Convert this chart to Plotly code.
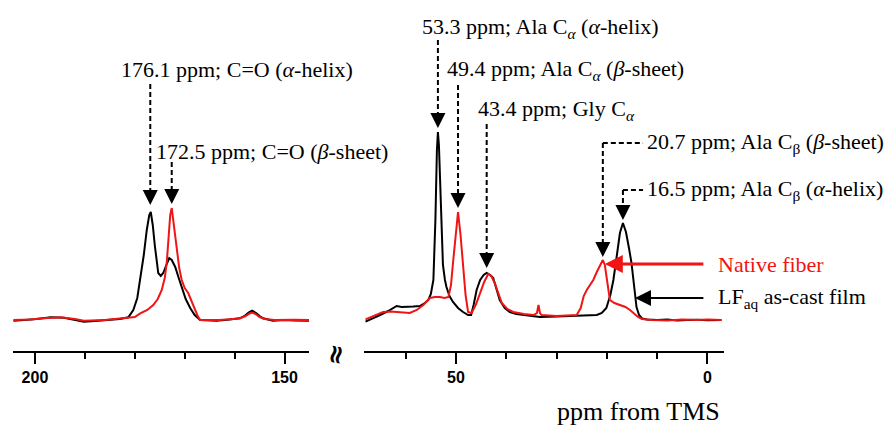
import plotly.graph_objects as go

# ---------------- data (ppm, intensity above baseline) ----------------
left_ppm_black = [204.3, 202, 200.2, 198, 196.9, 194.2, 192, 190.2, 188, 185.6, 183, 181.3, 180.3, 179.5,
                  178.9, 178.2, 177.6, 177.1, 176.8, 176.4, 176.0, 175.6, 175.3, 174.8, 174.3, 173.6, 173.1,
                  172.6, 171.9, 171.2, 170.6, 169.8, 168.9, 168.0, 166.9, 165, 163.6, 161, 159.0, 158, 157.2,
                  156.5, 155.7, 155.0, 154.3, 152.3, 150, 148, 145.0]
left_int_black = [-0.7, 0, 0.7, 2, 2.7, 2.3, 0.5, -1.7, -1, 0, 1, 2.7, 10, 22,
                  40, 65, 90, 105, 108, 95, 75, 55, 47, 44, 47, 56, 62,
                  60, 53, 42, 33, 21, 12, 5, 0, -0.5, -0.7, 0.5, 1.7, 4, 7.5,
                  9.3, 7, 4, 1.7, -0.7, 0, -0.5, -0.7]

left_ppm_red = [204.3, 201, 198.2, 194.9, 192, 190.2, 186, 181.6, 180, 178.9, 177.5, 176.3, 175.4, 174.6,
                174.0, 173.6, 173.2, 172.9, 172.6, 172.3, 172.0, 171.6, 171.1, 170.6, 170.0, 169.3, 168.6,
                168.0, 167.4, 166.9, 163, 159, 157.8, 157, 156.5, 155.8, 155, 154, 152, 148, 145]
left_int_red = [0, 0.5, 1.7, 2.7, 1, -0.7, 0, 1.7, 3, 6.7, 10, 15, 21, 30,
                42, 57, 85, 105, 112, 100, 82, 67, 52, 40, 32, 27, 18,
                10, 4, 0, 0, 1.5, 4, 6.5, 7.5, 6, 3, 1, 0, 0.3, 0]

right_ppm_black = [68.0, 66.5, 65.1, 63.5, 62.5, 61.8, 60.8, 59.8, 58.5, 57.2, 56.2, 55.5, 55.0, 54.5, 54.1,
                   53.8, 53.6, 53.4, 53.0, 52.6, 52.2, 51.9, 51.3, 50.6, 49.6, 48.6, 47.6, 47.0, 46.5, 45.9,
                   45.2, 44.5, 43.9, 43.2, 42.6, 42.0, 41.3, 40.3, 39.3, 38, 36.0, 33.3, 30, 26.7, 24, 22.0,
                   21, 20.1, 19.3, 18.7, 18.0, 17.4, 16.8, 16.2, 15.6, 15.1, 14.6, 14.1, 13.6, 13, 12, 10, 8,
                   6, 4, 2, 0, -2.8]
right_int_black = [-1.7, 1.5, 5, 9, 12, 14, 13, 13, 13.5, 14, 17, 20, 26, 40, 100,
                   170, 188, 175, 110, 55, 40, 33, 24, 18, 12, 8, 5, 5, 15, 30,
                   40, 45, 47, 45, 42, 32, 20, 12, 8, 6, 5, 3, 3.5, 4, 4.5, 5,
                   7, 12, 25, 40, 65, 87, 97, 88, 72, 57, 35, 13, 5, 1.5, 0.5, 0, 0.5,
                   -0.5, 0, 0.3, -0.3, 0]

right_ppm_red = [68.0, 66.5, 64.5, 63, 61.8, 60.5, 59.2, 57.8, 56.5, 55.2, 54.2, 53.2, 52.3, 51.5, 51.0,
                 50.6, 50.1, 49.6, 49.1, 48.6, 48.1, 47.6, 46.9, 46.0, 45.2, 44.4, 43.6, 43.0, 42.3, 41.6,
                 40.9, 39.8, 38.6, 36.5, 34.6, 33.9, 33.6, 33.3, 33.0, 30.0, 28, 26.0, 25.2, 24.6, 24.0,
                 23.3, 22.7, 22.0, 21.3, 20.8, 20.4, 20.1, 19.7, 19.4, 18.5, 17.4, 16.3, 15.4, 14.6, 13.8,
                 13, 11, 8, 5, 2, 0, -2.8]
right_int_red = [0.7, 4, 8, 8.5, 8, 7.5, 7, 10, 15, 22, 23, 23, 22, 23, 35,
                 57, 85, 108, 85, 57, 25, 8, 7, 16, 27, 38, 46, 44, 37, 27,
                 17, 11, 8, 6, 5, 7, 15, 7, 5, 4, 4.5, 5, 12, 24, 30,
                 35, 40, 48, 55, 60, 55, 43, 30, 20, 17, 15, 13, 10, 6, 3,
                 1, 0, -0.5, 0.5, 0, 0.5, 0]

# peak labels: text, axis, dashed-line ppm, line top, arrow tip, label x, label y
peak_labels = ["176.1 ppm; C=O (<i>α</i>-helix)",
               "172.5 ppm; C=O (<i>β</i>-sheet)",
               "53.3 ppm; Ala C<sub><i>α</i></sub> (<i>α</i>-helix)",
               "49.4 ppm; Ala C<sub><i>α</i></sub> (<i>β</i>-sheet)",
               "43.4 ppm; Gly C<sub><i>α</i></sub>"]
peak_axis = ["x", "x", "x2", "x2", "x2"]
peak_ppm = [176.9, 172.6, 53.6, 49.6, 43.9]
peak_top = [236, 158, 280, 235, 196]
peak_tip = [115, 116, 192, 112, 52]
peak_label_x = [159.6, 152.6, 33.1, 28.3, 30.1]
peak_label_y = [251, 169, 292, 250, 210]

# elbow labels (C-beta)
elbow_labels = ["20.7 ppm; Ala C<sub>β</sub> (<i>β</i>-sheet)",
                "16.5 ppm; Ala C<sub>β</sub> (<i>α</i>-helix)"]
elbow_ppm = [20.8, 16.8]
elbow_top = [177, 130]
elbow_tip = [63, 100]
elbow_end = 12.8
elbow_label_x = 12.4

# legend-like labels
legend_labels = ["Native fiber", "LF<sub>aq</sub> as-cast film"]
legend_colors = ["#f01414", "#000000"]
legend_y = [56, 22]
legend_tip = [20.4, 14.4]
legend_tail = [0.5, 0.5]
legend_text_x = -1.7

left_range = [204.5, 145.1]
right_range = [68.3, -3.3]

# ---------------- figure ----------------
fig = go.Figure()
fig.add_trace(go.Scatter(x=left_ppm_black, y=left_int_black, mode="lines",
                         line=dict(color="black", width=2), xaxis="x", yaxis="y"))
fig.add_trace(go.Scatter(x=left_ppm_red, y=left_int_red, mode="lines",
                         line=dict(color=legend_colors[0], width=2), xaxis="x", yaxis="y"))
fig.add_trace(go.Scatter(x=right_ppm_black, y=right_int_black, mode="lines",
                         line=dict(color="black", width=2), xaxis="x2", yaxis="y"))
fig.add_trace(go.Scatter(x=right_ppm_red, y=right_int_red, mode="lines",
                         line=dict(color=legend_colors[0], width=2), xaxis="x2", yaxis="y"))

W, H = 887, 427
axis_style = dict(showline=True, linecolor="black", linewidth=2, ticks="outside", ticklen=11,
                  tickwidth=2, tickcolor="black", showgrid=False, zeroline=False,
                  tick0=0, dtick=50, anchor="free", position=1 - 352 / H,
                  tickfont=dict(family="Liberation Sans, Arial", size=16,
                                color="black", weight="bold"),
                  minor=dict(dtick=10, tick0=0, ticks="outside", ticklen=6, tickwidth=2,
                             tickcolor="black", showgrid=False))

text_font = dict(family="Liberation Serif, Times New Roman, serif", size=22, color="black")
annotations = []
shapes = []
HEAD = 11
for t, ax_, p, top, tip, lx, ly in zip(peak_labels, peak_axis, peak_ppm, peak_top, peak_tip,
                                        peak_label_x, peak_label_y):
    annotations.append(dict(text=t, x=lx, y=ly, xref=ax_, yref="y", showarrow=False,
                            xanchor="center", yanchor="middle", font=text_font))
    shapes.append(dict(type="line", xref=ax_, yref="y", x0=p, x1=p, y0=top, y1=tip + HEAD,
                       line=dict(color="black", width=2, dash="5px,3px")))
    annotations.append(dict(text="", x=p, y=tip, xref=ax_, yref="y", showarrow=True,
                            ax=0, ay=-HEAD - 2, arrowhead=2, arrowsize=1.5, arrowwidth=2,
                            arrowcolor="black"))

for t, p, top, tip in zip(elbow_labels, elbow_ppm, elbow_top, elbow_tip):
    annotations.append(dict(text=t, x=elbow_label_x, y=top, xref="x2", yref="y", showarrow=False,
                            xanchor="left", yanchor="middle", font=text_font))
    shapes.append(dict(type="line", xref="x2", yref="y", x0=p, x1=elbow_end, y0=top, y1=top,
                       line=dict(color="black", width=2, dash="5px,3px")))
    shapes.append(dict(type="line", xref="x2", yref="y", x0=p, x1=p, y0=top, y1=tip + HEAD,
                       line=dict(color="black", width=2, dash="5px,3px")))
    annotations.append(dict(text="", x=p, y=tip, xref="x2", yref="y", showarrow=True,
                            ax=0, ay=-HEAD - 2, arrowhead=2, arrowsize=1.5, arrowwidth=2,
                            arrowcolor="black"))

for t, c, y, tip, tail, w in zip(legend_labels, legend_colors, legend_y, legend_tip, legend_tail, [3, 2]):
    annotations.append(dict(text=t, x=legend_text_x, y=y, xref="x2", yref="y", showarrow=False,
                            xanchor="left", yanchor="middle",
                            font=dict(family=text_font["family"], size=22, color=c)))
    annotations.append(dict(text="", x=tip, y=y, xref="x2", yref="y", showarrow=True,
                            ax=tail, ay=y, axref="x2", ayref="y", arrowhead=2,
                            arrowsize=1.2 if w == 3 else 1.6, arrowwidth=w, arrowcolor=c))

# axis break mark and axis title
annotations.append(dict(text="≈", x=337 / W, y=1 - 355 / H, xref="paper", yref="paper",
                        showarrow=False, textangle=100, xanchor="center", yanchor="middle",
                        font=dict(family="DejaVu Sans", size=26, color="black", weight="bold")))
annotations.append(dict(text="ppm from TMS", x=638 / W, y=1 - 411 / H, xref="paper", yref="paper",
                        showarrow=False, xanchor="center", yanchor="middle",
                        font=dict(family=text_font["family"], size=26, color="black")))

fig.update_layout(
    width=W, height=H, margin=dict(l=0, r=0, t=0, b=0),
    paper_bgcolor="white", plot_bgcolor="white", showlegend=False,
    xaxis=dict(domain=[12.5 / W, 309 / W], range=left_range, **axis_style),
    xaxis2=dict(domain=[364 / W, 724 / W], range=right_range, **axis_style),
    yaxis=dict(domain=[0, 1], range=[-107, 320], visible=False, fixedrange=True),
    annotations=annotations, shapes=shapes,
)

fig.write_html("out.html")
